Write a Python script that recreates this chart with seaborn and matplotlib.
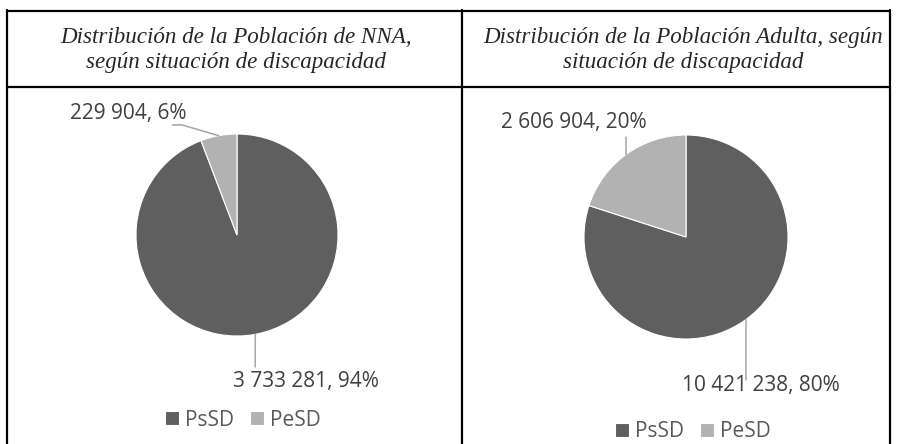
import matplotlib
matplotlib.use("Agg")
import matplotlib.pyplot as plt
from matplotlib.lines import Line2D
import numpy as np
import seaborn as sns

# data
categories = ["PsSD", "PeSD"]
nna_values = [3733281, 229904]
adult_values = [10421238, 2606904]
titles = ["Distribución de la Población de NNA,\nsegún situación de discapacidad",
          "Distribución de la Población Adulta, según\nsituación de discapacidad"]

W, H = 897, 444
colors = ["#5f5f5f", "#b2b2b2"]

sns.set_style("white")
plt.rcParams['font.family'] = ['Open Sans', 'DejaVu Sans']

fig = plt.figure(figsize=(W / 100, H / 100), dpi=100)


def fx(x):
    return x / W


def fy(y):
    return 1 - y / H


def pie_axes(cx, cy, r, x0, x1, y0, y1):
    ax = fig.add_axes([fx(x0), fy(y1), (x1 - x0) / W, (y1 - y0) / H])
    return ax, ((x0 - cx) / r, (x1 - cx) / r), ((cy - y1) / r, (cy - y0) / r)


def fmt(v, total):
    return f"{v:,}".replace(",", " ") + f", {round(100 * v / total)}%"


def draw_pie(values, cx, cy, r, cell, label_pos, leader_ends, legend_xy):
    ax, xl, yl = pie_axes(cx, cy, r, *cell)
    wedges, _ = ax.pie(values, colors=colors, startangle=90, counterclock=False,
                       radius=1, wedgeprops=dict(edgecolor="white", linewidth=0.8))
    total = sum(values)
    for i, w in enumerate(wedges):
        mid = np.deg2rad((w.theta1 + w.theta2) / 2)
        px, py = np.cos(mid), np.sin(mid)
        pts = [(px, py)] + leader_ends[i]
        ax.plot([p[0] for p in pts], [p[1] for p in pts], color="#a6a6a6",
                lw=1.1, clip_on=False)
        ax.text(label_pos[i][0], label_pos[i][1], fmt(values[i], total),
                ha="center", va="center", fontsize=15, color="#404040")
    ax.set_xlim(*xl)
    ax.set_ylim(*yl)
    ax.set_aspect("auto")
    ax.axis("off")
    fig.legend(wedges, categories, loc="center", ncol=2, frameon=False,
               bbox_to_anchor=(fx(legend_xy[0]), fy(legend_xy[1])),
               fontsize=15, labelcolor="#595959", handlelength=0.65,
               handleheight=0.65, handletextpad=0.3, columnspacing=0.8)


# NNA pie
draw_pie(nna_values, 237, 235, 101, (9, 460, 89, 444),
         label_pos=[(0.683, -1.455), (-1.08, 1.20)],
         leader_ends=[[(0.18, -1.307)], [(-0.545, 1.09), (-0.64, 1.09)]],
         legend_xy=(243, 420))

# Adult pie
draw_pie(adult_values, 686, 237, 102, (464, 888, 89, 444),
         label_pos=[(0.735, -1.46), (-1.10, 1.118)],
         leader_ends=[[(0.588, -1.40)], [(-0.588, 0.98)]],
         legend_xy=(693, 431.5))

# titles
fig.text(fx(236), fy(50), titles[0], ha="center", va="center", fontsize=16.6,
         family="Liberation Serif", style="italic", linespacing=1.3)
fig.text(fx(683), fy(50), titles[1], ha="center", va="center", fontsize=16.6,
         family="Liberation Serif", style="italic", linespacing=1.3)

# table borders
lw = 1.6
for x in (7, 462, 890):
    fig.add_artist(Line2D([fx(x), fx(x)], [fy(10), 0], color="black", lw=lw))
for y in (11, 87):
    fig.add_artist(Line2D([fx(7), fx(890)], [fy(y), fy(y)], color="black", lw=lw))

fig.savefig("out.png", dpi=100)
